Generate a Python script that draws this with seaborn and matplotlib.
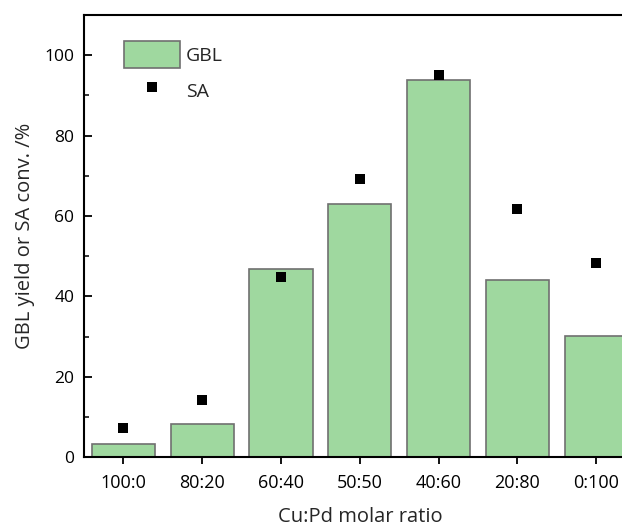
import pandas
import seaborn
import matplotlib.pyplot
from matplotlib.ticker import MultipleLocator

# values
ratios = ["100:0", "80:20", "60:40", "50:50", "40:60", "20:80", "0:100"]
gbl_yield = [3.2, 8.2, 46.9, 63.1, 93.8, 44.1, 30.2]
sa_conv = [7.2, 14.2, 44.9, 69.2, 95.0, 61.8, 48.4]

seaborn.set_style("ticks")
matplotlib.pyplot.rcParams['font.family'] = ['Open Sans', 'DejaVu Sans']

data = pandas.DataFrame({"ratio": ratios, "GBL": gbl_yield, "SA": sa_conv})

fig = matplotlib.pyplot.figure(figsize=(6.22, 5.29), dpi=100)
ax = fig.add_axes([0.135, 0.136, 0.887, 0.8355])

seaborn.barplot(data=data, x="ratio", y="GBL", color="#9fd89f", saturation=1,
                width=0.8, edgecolor="#707070", linewidth=1.2, label="GBL", ax=ax)
seaborn.scatterplot(data=data, x="ratio", y="SA", marker="s", color="black",
                    s=52, edgecolor="none", label="SA", ax=ax, zorder=3)

ax.set_xlim(-0.5, 6.5)
ax.set_ylim(0, 110)
ax.yaxis.set_major_locator(MultipleLocator(20))
ax.yaxis.set_minor_locator(MultipleLocator(10))
ax.tick_params(axis="x", which="major", direction="out", length=5, width=1.3,
               labelsize=13, pad=7, colors="black")
ax.tick_params(axis="y", which="major", direction="in", length=6, width=1.3,
               labelsize=12.5, pad=7, colors="black")
ax.tick_params(axis="y", which="minor", direction="in", length=3.6, width=1.3)
for side in ["left", "bottom", "top", "right"]:
    ax.spines[side].set_linewidth(1.5)
    ax.spines[side].set_color("black")

ax.set_xlabel("Cu:Pd molar ratio", fontsize=14.5, labelpad=11)
ax.set_ylabel("GBL yield or SA conv. /%", fontsize=14.5, labelpad=7)

handles, labels = ax.get_legend_handles_labels()
order = [labels.index("GBL"), labels.index("SA")]
ax.legend([handles[i] for i in order], [labels[i] for i in order],
          loc="upper left", bbox_to_anchor=(0.058, 0.958), frameon=False,
          fontsize=14, handlelength=2.9, handleheight=1.75, handletextpad=0.3,
          labelspacing=0.45, borderaxespad=0)

fig.savefig("out.png", dpi=100)
